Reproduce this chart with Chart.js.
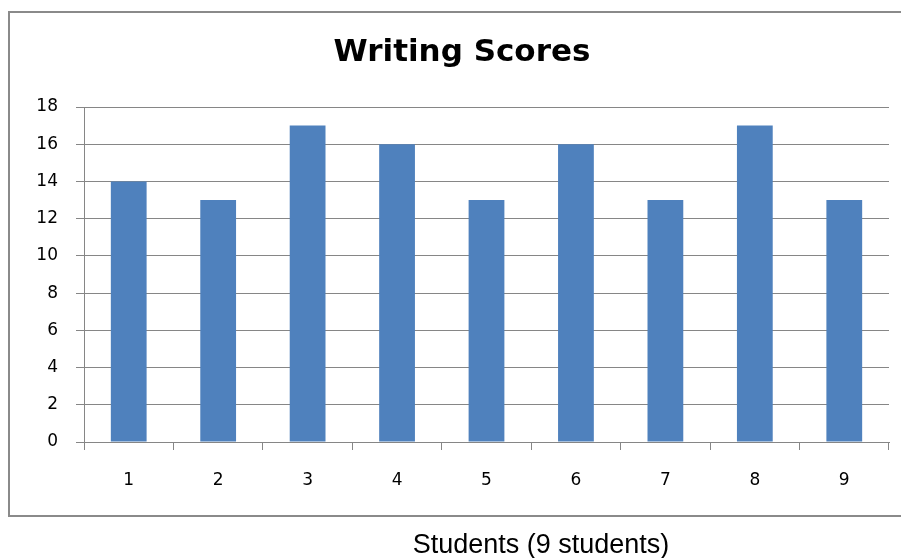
<!DOCTYPE html>
<html>
<head>
<meta charset="utf-8">
<script src="https://cdn.jsdelivr.net/npm/chart.js@4"></script>
<style>
  html, body { margin:0; padding:0; background:#fff; }
  #wrap { position:relative; width:901px; height:558px; }
  #xtitle { position:absolute; left:0; width:1082px; top:529px; text-align:center;
            font-family:"Liberation Sans", Arial, sans-serif; font-size:27px; color:#000; line-height:30px; }
</style>
</head>
<body>
<div id="wrap">
  <canvas id="c" width="901" height="558"></canvas>
  <div id="xtitle">Students (9 students)</div>
</div>
<script>
const categories = ["1","2","3","4","5","6","7","8","9"];
const scores = [14, 13, 17, 16, 13, 16, 13, 17, 13];
const chartTitle = "Writing Scores";
const yMin = 0, yMax = 18, yStep = 2;

const frame = {
  id: 'frame',
  beforeDraw(chart) {
    const ctx = chart.ctx;
    ctx.save();
    ctx.strokeStyle = '#8a8a8a';
    ctx.lineWidth = 2;
    ctx.beginPath();
    ctx.moveTo(960, 12);
    ctx.lineTo(9, 12);
    ctx.lineTo(9, 516);
    ctx.lineTo(960, 516);
    ctx.stroke();
    ctx.restore();
  }
};

new Chart(document.getElementById('c'), {
  type: 'bar',
  data: {
    labels: categories,
    datasets: [{
      data: scores,
      backgroundColor: '#4F81BD',
      borderWidth: 0,
      barPercentage: 0.4,
      categoryPercentage: 1.0
    }]
  },
  options: {
    responsive: false,
    animation: false,
    devicePixelRatio: 1,
    layout: { padding: { left: 35, right: 12, top: 0, bottom: 0 } },
    plugins: {
      legend: { display: false },
      tooltip: { enabled: false },
      title: {
        display: true,
        text: chartTitle,
        color: '#000',
        font: { family: 'DejaVu Sans', size: 31, weight: 'bold', lineHeight: 1.2 },
        padding: { top: 34, bottom: 35.8 }
      }
    },
    scales: {
      x: {
        offset: true,
        grid: { display: true, drawOnChartArea: false, drawTicks: true, tickLength: 8, color: '#868686', offset: true },
        border: { display: true, color: '#868686', width: 1 },
        ticks: { color: '#000', padding: 20, font: { family: 'DejaVu Sans', size: 17 } },
        afterFit(scale) { scale.height = 116; }
      },
      y: {
        min: yMin, max: yMax,
        grid: { color: '#868686', tickLength: 8, drawTicks: true },
        border: { display: true, color: '#868686', width: 1 },
        ticks: { stepSize: yStep, color: '#000', padding: 18, font: { family: 'DejaVu Sans', size: 17 } },
        afterFit(scale) { scale.width = 49; }
      }
    }
  },
  plugins: [frame]
});
</script>
</body>
</html>
